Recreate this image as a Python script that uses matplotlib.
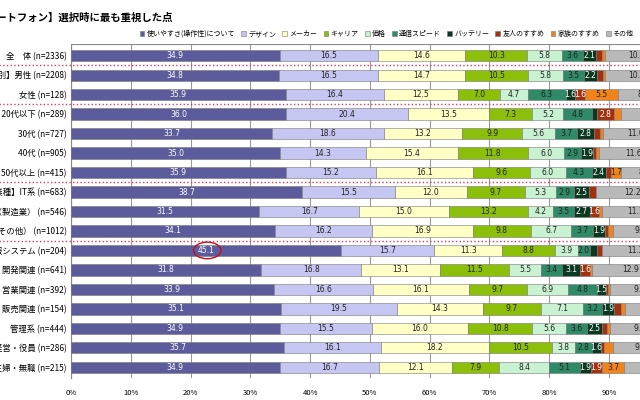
import matplotlib
matplotlib.use("Agg")
import matplotlib.pyplot as plt
import numpy as np

plt.rcParams['font.family'] = 'Noto Sans CJK JP'

categories = ["全　体 (n=2336)", "【性別】男性 (n=2208)", "女性 (n=128)", "【年代】20代以下 (n=289)",
              "30代 (n=727)", "40代 (n=905)", "50代以上 (n=415)", "【業種】IT系 (n=683)",
              "IT系以外（製造業） (n=546)", "IT系以外（その他） (n=1012)", "【職種】情報システム (n=204)",
              "開発関連 (n=641)", "営業関連 (n=392)", "販売関連 (n=154)", "管理系 (n=444)",
              "経営・役員 (n=286)", "専業主婦・無職 (n=215)"]
series = ["使いやすさ(操作性)について", "デザイン", "メーカー", "キャリア", "価格", "通信スピード",
          "バッテリー", "友人のすすめ", "家族のすすめ", "その他"]
ease    = [34.9, 34.8, 35.9, 36.0, 33.7, 35.0, 35.9, 38.7, 31.5, 34.1, 45.1, 31.8, 33.9, 35.1, 34.9, 35.7, 34.9]
design  = [16.5, 16.5, 16.4, 20.4, 18.6, 14.3, 15.2, 15.5, 16.7, 16.2, 15.7, 16.8, 16.6, 19.5, 15.5, 16.1, 16.7]
maker   = [14.6, 14.7, 12.5, 13.5, 13.2, 15.4, 16.1, 12.0, 15.0, 16.9, 11.3, 13.1, 16.1, 14.3, 16.0, 18.2, 12.1]
carrier = [10.3, 10.5, 7.0, 7.3, 9.9, 11.8, 9.6, 9.7, 13.2, 9.8, 8.8, 11.5, 9.7, 9.7, 10.8, 10.5, 7.9]
price   = [5.8, 5.8, 4.7, 5.2, 5.6, 6.0, 6.0, 5.3, 4.2, 6.7, 3.9, 5.5, 6.9, 7.1, 5.6, 3.8, 8.4]
speed   = [3.6, 3.5, 6.3, 4.8, 3.7, 2.9, 4.3, 2.9, 3.5, 3.7, 2.0, 3.4, 4.8, 3.2, 3.6, 2.8, 5.1]
battery = [2.1, 2.2, 1.6, 0.8, 2.8, 1.9, 2.4, 2.5, 2.7, 1.9, 1.2, 3.1, 1.5, 1.9, 2.5, 1.6, 1.9]
friend  = [1.0, 1.0, 1.6, 2.8, 1.0, 0.6, 0.8, 1.2, 1.6, 0.5, 0.8, 1.6, 0.3, 1.3, 0.8, 0.5, 1.9]
family  = [0.6, 0.4, 5.5, 1.3, 0.5, 0.5, 1.7, 0.0, 0.5, 0.9, 0.0, 0.3, 0.3, 0.6, 0.5, 1.4, 3.7]
other   = [10.6, 10.6, 8.5, 7.9, 11.0, 11.6, 8.0, 12.2, 11.1, 9.3, 11.2, 12.9, 9.9, 7.3, 9.8, 9.4, 7.4]
ticks = ["0%", "10%", "20%", "30%", "40%", "50%", "60%", "70%", "80%", "90%"]

data = [ease, design, maker, carrier, price, speed, battery, friend, family, other]
colors = ["#5c5b9c", "#c6c6f2", "#ffffc6", "#8cbf0a", "#c8f2d2", "#2f8a68", "#0b3820", "#a2320f", "#f0841a", "#b9b9b9"]
txtc = ["white", "#222", "#222", "#222", "#222", "#222", "white", "white", "#222", "#222"]

fig = plt.figure(figsize=(6.4, 4.0), dpi=100)
ax = fig.add_axes([71/640, 22/400, 1 - 71/640, 1 - 22/400 - 44/400])
y = np.arange(len(categories))
left = np.zeros(len(categories))
for s, vals, c, tc in zip(series, data, colors, txtc):
    v = np.array(vals)
    ax.barh(y, v, left=left, height=0.58, color=c, edgecolor="#777", linewidth=0.4, label=s, zorder=3)
    for yi, (l, w) in enumerate(zip(left, v)):
        if w >= 1.5:
            ax.text(l + w / 2, yi, f"{w:.1f}", ha="center", va="center", fontsize=5.5, color=tc, zorder=4,
                    fontfamily="DejaVu Sans")
    left += v

ax.set_ylim(len(categories) - 0.45, -0.6)
ax.set_xlim(0, 95.2)
ax.set_xticks(np.arange(0, 91, 10))
ax.set_xticklabels(ticks, fontsize=5.5)
ax.set_yticks(y)
ax.set_yticklabels(categories, fontsize=6)
ax.tick_params(length=0, pad=3)
ax.tick_params(axis="x", pad=8)
ax.xaxis.grid(True, color="#999", linewidth=0.8, zorder=0)
for s in ["top", "right", "bottom"]:
    ax.spines[s].set_visible(False)
ax.spines["left"].set_color("#888")
ax.axhline(-0.6, color="#888", linewidth=0.8, zorder=2)
for sep in [0.5, 2.5, 6.5, 9.5]:
    ax.axhline(sep, color="#d04060", linestyle=":", linewidth=1.0, zorder=5, clip_on=False, xmin=-0.2)

from matplotlib.patches import Ellipse
ax.add_patch(Ellipse((22.8, 10), 4.6, 0.85, fill=False, edgecolor="#c01020", linewidth=1.0, zorder=6))

fig.text(-0.055, 0.955, "【スマートフォン】選択時に最も重視した点", fontsize=7.5, fontweight="bold", va="center")
fig.legend(loc="center right", bbox_to_anchor=(1.0, 0.915), ncol=10, fontsize=5, frameon=False,
           handlelength=0.7, handleheight=0.7, columnspacing=0.9, handletextpad=0.3)
fig.savefig("out.png", dpi=100)
